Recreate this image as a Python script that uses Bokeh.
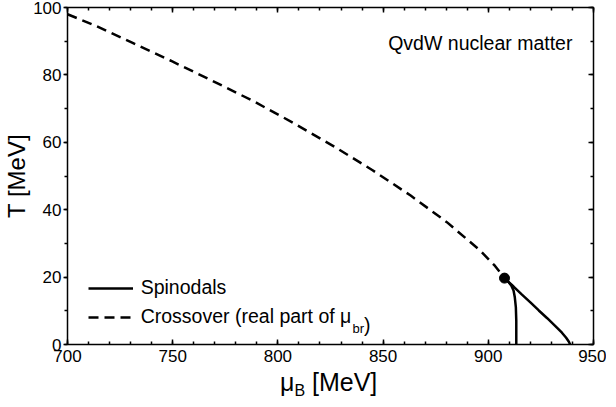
from bokeh.plotting import figure
from bokeh.layouts import column
from bokeh.models import (Range1d, LinearAxis, SingleIntervalTicker, Label,
                          Legend, LegendItem, Div)
from bokeh.embed import file_html
from bokeh.resources import INLINE

FONT = "Liberation Sans"

# ---- data ----
cross_mu = [700, 712.9, 730.2, 749.1, 768.7, 788.4, 807.2, 826.9, 845.0,
            863.1, 880.3, 896.1, 903.2, 907.7]
cross_T = [98.0, 94.7, 89.7, 84.2, 78.3, 72.2, 65.8, 58.7, 51.7,
           44.2, 36.3, 27.9, 23.3, 19.7]

spin_left_mu = [907.7, 909.5, 910.9, 912.0, 912.6, 913.1, 913.3, 913.3]
spin_left_T = [19.7, 18.6, 17.5, 16.0, 14.0, 11.0, 7.0, 0.0]

spin_right_mu = [907.7, 912, 916, 920, 924, 928, 932, 935, 937, 938.3, 938.9]
spin_right_T = [19.7, 17.2, 14.8, 12.5, 10.1, 7.8, 5.4, 3.5, 2.0, 0.8, 0.0]

crit_mu = [907.7]
crit_T = [19.7]

x_limits = (700, 950)
y_limits = (0, 100)
x_tick_step, y_tick_step = 50, 20

p = figure(width=606, height=370, output_backend="svg", toolbar_location=None,
           x_range=Range1d(*x_limits), y_range=Range1d(*y_limits),
           x_axis_type=None, y_axis_type=None,
           min_border_left=63, min_border_right=13, min_border_top=7,
           min_border_bottom=26)
p.outline_line_color = None
p.background_fill_color = "white"
p.border_fill_color = "white"


def style(ax, show_labels, tin, tout, mtin, mtout, standoff):
    ax.axis_line_width = 1.5
    ax.axis_line_color = "black"
    ax.major_tick_line_width = 1.5
    ax.minor_tick_line_width = 1.5
    ax.major_tick_line_color = "black"
    ax.minor_tick_line_color = "black"
    ax.major_tick_in = tin
    ax.major_tick_out = tout
    ax.minor_tick_in = mtin
    ax.minor_tick_out = mtout
    ax.major_label_text_font = FONT
    ax.major_label_standoff = standoff
    if show_labels:
        ax.major_label_text_font_size = "17px"
        ax.major_label_text_color = "black"
    else:
        ax.major_label_text_font_size = "1px"
        ax.major_label_text_color = None


xb = LinearAxis(ticker=SingleIntervalTicker(interval=x_tick_step, num_minor_ticks=5))
style(xb, True, 5, 0, 3, 0, 5)
p.add_layout(xb, "below")
xt = LinearAxis(ticker=SingleIntervalTicker(interval=x_tick_step, num_minor_ticks=5))
style(xt, False, 5, 0, 3, 0, 0)
p.add_layout(xt, "above")
yl = LinearAxis(ticker=SingleIntervalTicker(interval=y_tick_step, num_minor_ticks=2))
style(yl, True, 0, 4, 0, 3, 2)
yl.axis_label = "T [MeV]"
yl.axis_label_text_font = FONT
yl.axis_label_text_font_size = "24px"
yl.axis_label_text_font_style = "normal"
yl.axis_label_text_color = "black"
yl.axis_label_standoff = 0
p.add_layout(yl, "left")
yr = LinearAxis(ticker=SingleIntervalTicker(interval=y_tick_step, num_minor_ticks=2))
style(yr, False, 5, 0, 3, 0, 0)
p.add_layout(yr, "right")

cross = p.line(cross_mu, cross_T, line_width=2.5, line_dash="10 6", color="black")
left = p.line(spin_left_mu, spin_left_T, line_width=2.5, color="black")
p.line(spin_right_mu, spin_right_T, line_width=2.5, color="black")
p.scatter(crit_mu, crit_T, size=10, color="black")

legend = Legend(items=[LegendItem(label="Spinodals", renderers=[left]),
                       LegendItem(label="Crossover (real part of \u03bc", renderers=[cross])],
                location=(20.7, 15.7), glyph_width=45, glyph_height=22,
                label_height=22, label_standoff=8, spacing=6, padding=0, margin=0,
                border_line_color=None, background_fill_alpha=0,
                label_text_font_size="19.5px", label_text_font=FONT,
                label_text_color="black")
p.add_layout(legend)


def lab(text, x, y, size):
    p.add_layout(Label(x=x, y=y, x_units="screen", y_units="screen", text=text,
                       text_font=FONT, text_font_size=size, text_color="black",
                       text_baseline="alphabetic"))


lab("br", 285, 16, "13px")
lab(")", 296.6, 20, "19.5px")
lab("QvdW nuclear matter", 320.7, 302, "19.5px")

xtitle = Div(
    text=("<div style=\"padding-left:280px; font-family:'Liberation Sans'; "
          "font-size:25px; line-height:25px; color:black; white-space:nowrap;\">"
          "\u03bc<span style=\"font-size:16px; position:relative; top:5px;\">B</span>"
          " [MeV]</div>"),
    width=606, height=21, margin=0)

layout = column(p, xtitle, spacing=0)

open("out.html", "w").write(file_html(layout, INLINE))
